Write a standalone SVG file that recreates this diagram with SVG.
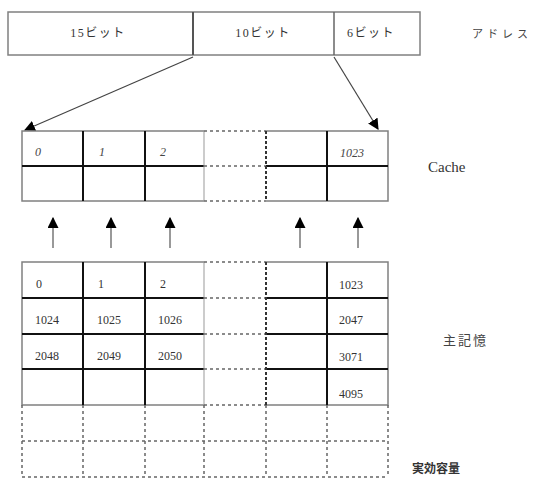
<svg xmlns="http://www.w3.org/2000/svg" width="537" height="478" viewBox="0 0 537 478">
<style>
.bg{fill:#fff}
.outer{stroke:#808080;stroke-width:1.5;fill:none}
.inner{stroke:#111;stroke-width:2;fill:none}
.thin{stroke:#999;stroke-width:1;fill:none}
.dash{stroke:#666;stroke-width:1.5;stroke-dasharray:3 3;fill:none}
.dashk{stroke:#333;stroke-width:2;stroke-dasharray:3 2;fill:none}
.conn{stroke:#444;stroke-width:1.2;fill:none}
.up{stroke:#777;stroke-width:1.5;fill:none}
.t{font-size:12px;fill:#333}
.j{fill:#444}
.c{font-style:italic;font-size:12px;fill:#444}
</style>
<defs>
<marker id="ah" viewBox="0 0 10 10" refX="9" refY="5" markerWidth="11" markerHeight="11" markerUnits="userSpaceOnUse" orient="auto">
<path d="M0,0 L10,5 L0,10 z" fill="#000"/>
</marker>
</defs>
<rect class="bg" x="0" y="0" width="537" height="478"/>

<g id="address">
<rect class="outer" x="8" y="12" width="412" height="43"/>
<line class="inner" x1="193" y1="12" x2="193" y2="55" style="stroke:#555"/>
<line class="thin" x1="334" y1="12" x2="334" y2="55" style="stroke:#666;stroke-width:1.5"/>
<text class="t" font-family="'Liberation Serif','Noto Sans CJK JP',serif" x="98" y="37" text-anchor="middle" letter-spacing="1.5">15ビット</text>
<text class="t" font-family="'Liberation Serif','Noto Sans CJK JP',serif" x="263" y="37" text-anchor="middle" letter-spacing="1.5">10ビット</text>
<text class="t" font-family="'Liberation Serif','Noto Sans CJK JP',serif" x="371" y="37" text-anchor="middle" letter-spacing="1.5">6ビット</text>
<text class="j" font-family="'Noto Sans CJK JP',sans-serif" x="472" y="38" font-size="11" letter-spacing="4">アドレス</text>
</g>

<g id="connectors">
<line class="conn" x1="193" y1="57" x2="25" y2="130" marker-end="url(#ah)"/>
<line class="conn" x1="334" y1="57" x2="378" y2="129" marker-end="url(#ah)"/>
<line class="up" x1="53" y1="248" x2="53" y2="218" marker-end="url(#ah)"/>
<line class="up" x1="111" y1="248" x2="111" y2="218" marker-end="url(#ah)"/>
<line class="up" x1="170" y1="248" x2="170" y2="218" marker-end="url(#ah)"/>
<line class="up" x1="300" y1="248" x2="300" y2="218" marker-end="url(#ah)"/>
<line class="up" x1="358" y1="248" x2="358" y2="218" marker-end="url(#ah)"/>
</g>

<g id="cache">
<path class="outer" d="M204,131 H22 V201 H204 M266,131 H388 V201 H266"/>
<line class="inner" x1="22" y1="166" x2="204" y2="166"/>
<line class="inner" x1="266" y1="166" x2="388" y2="166"/>
<line class="inner" x1="83" y1="131" x2="83" y2="201"/>
<line class="inner" x1="145" y1="131" x2="145" y2="201"/>
<line class="inner" x1="327" y1="131" x2="327" y2="201"/>
<line class="thin" x1="204" y1="131" x2="204" y2="201"/>
<path class="dash" d="M204,131 H266 M204,166 H266 M204,201 H266"/>
<line class="dashk" x1="266" y1="131" x2="266" y2="201"/>
<text class="c" font-family="'Liberation Serif',serif" x="35" y="156">0</text>
<text class="c" font-family="'Liberation Serif',serif" x="99" y="156">1</text>
<text class="c" font-family="'Liberation Serif',serif" x="160" y="156">2</text>
<text class="c" font-family="'Liberation Serif',serif" x="340" y="157">1023</text>
<text font-family="'Liberation Serif',serif" font-size="15" fill="#333" x="428" y="172">Cache</text>
</g>

<g id="memory">
<path class="outer" d="M204,262 H22 V405 H204 M266,262 H388 V405 H266"/>
<line class="inner" x1="22" y1="298" x2="204" y2="298"/>
<line class="inner" x1="22" y1="334" x2="204" y2="334"/>
<line class="inner" x1="22" y1="369" x2="204" y2="369"/>
<line class="inner" x1="266" y1="298" x2="388" y2="298"/>
<line class="inner" x1="266" y1="334" x2="388" y2="334"/>
<line class="inner" x1="266" y1="369" x2="388" y2="369"/>
<line class="inner" x1="83" y1="262" x2="83" y2="405"/>
<line class="inner" x1="145" y1="262" x2="145" y2="405"/>
<line class="inner" x1="327" y1="262" x2="327" y2="405"/>
<line class="thin" x1="204" y1="262" x2="204" y2="405"/>
<path class="dash" d="M204,262 H266 M204,298 H266 M204,334 H266 M204,369 H266 M204,405 H266"/>
<line class="dashk" x1="266" y1="262" x2="266" y2="405"/>
<g font-family="'Liberation Serif',serif">
<text class="t" x="36" y="288">0</text>
<text class="t" x="98" y="288">1</text>
<text class="t" x="160" y="288">2</text>
<text class="t" x="35" y="324">1024</text>
<text class="t" x="97" y="324">1025</text>
<text class="t" x="158" y="324">1026</text>
<text class="t" x="35" y="360">2048</text>
<text class="t" x="97" y="360">2049</text>
<text class="t" x="158" y="360">2050</text>
<text class="t" x="339" y="289">1023</text>
<text class="t" x="339" y="324">2047</text>
<text class="t" x="339" y="361">3071</text>
<text class="t" x="339" y="398">4095</text>
</g>
<text class="j" font-family="'Noto Sans CJK JP',sans-serif" x="443" y="345" font-size="13" letter-spacing="2">主記憶</text>
</g>

<g id="capacity">
<path class="dash" d="M22,405 V477 M83,405 V477 M145,405 V477 M204,405 V477 M266,405 V477 M327,405 V477 M388,405 V477 M22,441 H388 M22,477 H388"/>
<text font-family="'Noto Sans CJK JP',sans-serif" x="412" y="473" font-size="12" font-weight="bold" fill="#333">実効容量</text>
</g>
</svg>
